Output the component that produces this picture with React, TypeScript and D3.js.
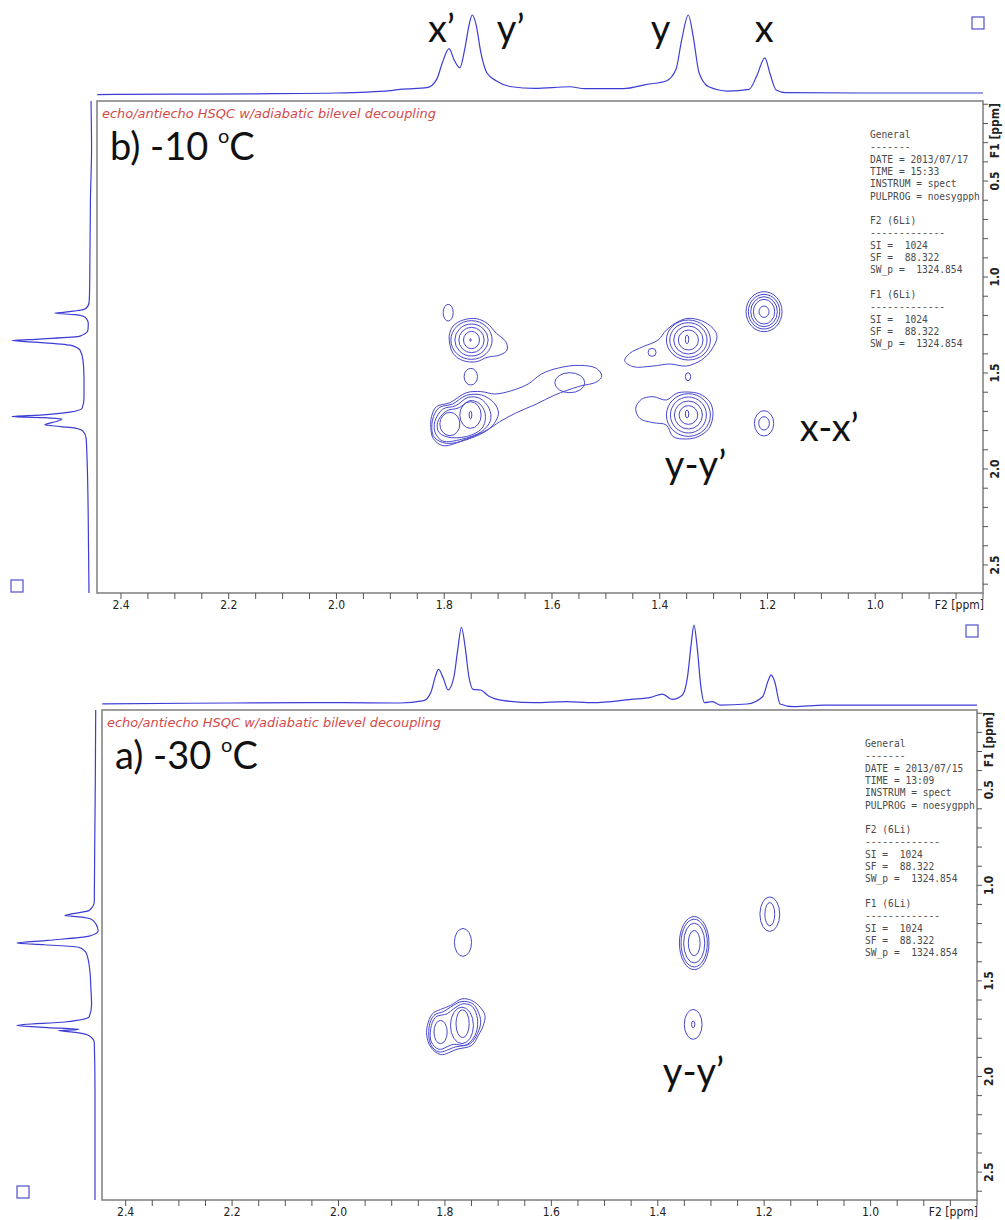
import React from 'react'
import * as d3 from 'd3'

type Pt = [number, number]
type Ring = [number, number, number, number] // F2, F1, half width F2, half width F1 (ppm)

// axes
const F2_DOMAIN = [2.4445, 0.8]
const F1_DOMAIN = [0.083, 2.646]
const f2Labels = [2.4, 2.2, 2.0, 1.8, 1.6, 1.4, 1.2, 1.0]
const f1Labels = [0.5, 1.0, 1.5, 2.0, 2.5]

// peak names over the -10 C projection (F2 ppm where the label starts)
const peakNames = ['x’', 'y’', 'y', 'x']
const peakNameF2 = [1.8303, 1.7023, 1.4165, 1.2235]

// 1D projections: [ppm, intensity] (100 = tallest peak)
const topProjM10: Pt[] = [
  [2.444, -2], [2.3, -1.5], [2.15, -1], [2.0, 0], [1.9, 3], [1.882, 4.7], [1.832, 6.8],
  [1.814, 17.5], [1.8035, 38.9], [1.791, 56.8], [1.782, 43], [1.771, 32.4], [1.762, 56],
  [1.753, 90], [1.748, 100], [1.741, 88], [1.732, 51.7], [1.721, 26], [1.703, 15.4],
  [1.675, 8], [1.632, 6], [1.567, 8], [1.539, 5.5], [1.467, 5.5], [1.424, 11], [1.388, 15.4],
  [1.37, 30], [1.359, 69], [1.347, 100], [1.338, 73], [1.327, 26], [1.309, 8], [1.273, 2.5],
  [1.234, 4.7], [1.22, 21.8], [1.205, 45], [1.195, 24], [1.184, 3.8], [1.166, 0.4],
  [1.023, 0], [0.8, 0],
]
const sideProjM10: Pt[] = [
  [0.083, -1.3], [0.33, -2], [0.59, -0.6], [0.85, 0], [1.084, 0.6], [1.136, 1.3], [1.167, 6.4],
  [1.183, 32], [1.188, 45], [1.196, 19], [1.209, 6.4], [1.24, 2.2], [1.276, 2.6], [1.308, 12.8],
  [1.323, 64], [1.331, 100], [1.339, 70], [1.355, 25.6], [1.381, 12.8], [1.433, 9], [1.526, 7.7],
  [1.631, 7.7], [1.683, 10], [1.704, 25.6], [1.719, 64], [1.726, 100], [1.732, 64], [1.74, 36],
  [1.75, 41], [1.77, 58], [1.779, 38], [1.787, 19], [1.8025, 9], [1.839, 5], [1.943, 3.8],
  [2.151, 2.6], [2.412, 1.9], [2.646, 1.3],
]
const topProjM30: Pt[] = [
  [2.444, -1], [2.2, 0], [2.0, 0.5], [1.884, 0], [1.84, 3], [1.826, 14.5], [1.818, 33.8],
  [1.812, 43], [1.803, 31.6], [1.794, 16.7], [1.783, 33.8], [1.776, 68], [1.769, 97],
  [1.762, 72], [1.755, 33.8], [1.747, 17.5], [1.733, 16.7], [1.718, 9], [1.689, 3],
  [1.631, 0.4], [1.572, 1.7], [1.522, 0.4], [1.45, 4.7], [1.413, 7.3], [1.391, 11.5],
  [1.373, 4.7], [1.354, 10], [1.344, 33.8], [1.337, 76.5], [1.332, 100], [1.326, 72],
  [1.319, 21], [1.312, 0.4], [1.297, 1.7], [1.283, -2.6], [1.232, -1.3], [1.203, 8],
  [1.192, 29.5], [1.187, 36], [1.18, 27], [1.17, -1.3], [1.145, -4.7], [1.087, -2.6],
  [0.941, -2.6], [0.8, -2.6],
]
const sideProjM30: Pt[] = [
  [0.083, -0.9], [0.458, -0.4], [0.817, 0.4], [1.086, 0.9], [1.132, 7.5], [1.149, 29.6],
  [1.158, 38.5], [1.165, 20.8], [1.176, 5.3], [1.203, -1.3], [1.239, -4], [1.266, 7.5],
  [1.288, 60.6], [1.302, 100], [1.311, 65], [1.324, 20.8], [1.356, 11], [1.446, 6.6],
  [1.535, 5.3], [1.625, 4.4], [1.688, 7.5], [1.715, 38.5], [1.733, 100], [1.744, 60.6],
  [1.754, 20.8], [1.76, 47], [1.769, 25], [1.787, 7.5], [1.823, 0.9], [2.074, 0], [2.646, 0],
]

// 2D contours, -10 C: near-elliptic rings
const ringsM10: Ring[] = [
  // x diagonal
  [1.2064, 1.1806, 0.0334, 0.1042], [1.2064, 1.1806, 0.0291, 0.0903], [1.2064, 1.1806, 0.0247, 0.0781],
  [1.2064, 1.1806, 0.0198, 0.0642], [1.2064, 1.1806, 0.0093, 0.0295],
  // x-x' cross peak
  [1.2064, 1.7622, 0.0179, 0.066], [1.2064, 1.7622, 0.0099, 0.0347],
  // y diagonal
  [1.3468, 1.3281, 0.0408, 0.1042], [1.3468, 1.3281, 0.0346, 0.0903], [1.3468, 1.3281, 0.0272, 0.0729],
  [1.3468, 1.3281, 0.0186, 0.0521], [1.3493, 1.3247, 0.0031, 0.0226],
  // y-y' cross peak
  [1.3468, 1.7188, 0.0408, 0.1111], [1.3468, 1.7188, 0.0334, 0.0938], [1.3468, 1.7188, 0.026, 0.0729],
  [1.3468, 1.7188, 0.0173, 0.0486], [1.3493, 1.7136, 0.0031, 0.0208],
  // y'-y cross peak
  [1.7494, 1.3281, 0.0383, 0.1007], [1.7494, 1.3281, 0.0309, 0.0833], [1.7494, 1.3281, 0.0235, 0.066],
  [1.7494, 1.3281, 0.0148, 0.0451], [1.7513, 1.3281, 0.0012, 0.0069],
  // small features
  [1.7927, 1.1858, 0.0093, 0.0434], [1.7507, 1.5191, 0.0124, 0.0434], [1.4142, 1.3924, 0.0074, 0.0208],
  [1.3475, 1.5191, 0.0049, 0.0208], [1.567, 1.5504, 0.0278, 0.0521],
  // x' / y' diagonal lobes
  [1.7896, 1.7656, 0.0186, 0.0608], [1.7513, 1.7188, 0.0198, 0.0694], [1.7513, 1.7188, 0.0025, 0.0208],
]
// -10 C: irregular outer rings
const shapesM10: Pt[][] = [
  [[1.465, 1.4358], [1.4557, 1.3976], [1.4309, 1.3629], [1.4031, 1.3281], [1.3877, 1.2761],
    [1.366, 1.2326], [1.3475, 1.2153], [1.3227, 1.2274], [1.3011, 1.2674], [1.2937, 1.3108],
    [1.3042, 1.3802], [1.3227, 1.4323], [1.3506, 1.4636], [1.3815, 1.4531], [1.4124, 1.4636],
    [1.4495, 1.467]],
  [[1.4446, 1.684], [1.434, 1.6372], [1.4124, 1.6233], [1.3877, 1.6406], [1.3691, 1.6059],
    [1.3493, 1.599], [1.3258, 1.6094], [1.3073, 1.6493], [1.3011, 1.7101], [1.3085, 1.7882],
    [1.3289, 1.8316], [1.3506, 1.8438], [1.3753, 1.8316], [1.3877, 1.7708], [1.4124, 1.7587],
    [1.4371, 1.7361]],
  [[1.7909, 1.3108], [1.7835, 1.2552], [1.7649, 1.224], [1.7402, 1.217], [1.7204, 1.2413],
    [1.7031, 1.2934], [1.6857, 1.3368], [1.6833, 1.3802], [1.6969, 1.4063], [1.7204, 1.4184],
    [1.7402, 1.441], [1.7649, 1.4358], [1.7835, 1.3976]],
  [[1.8236, 1.7274], [1.8144, 1.6754], [1.7896, 1.6545], [1.7587, 1.6024], [1.7309, 1.5972],
    [1.7061, 1.6094], [1.6752, 1.592], [1.6443, 1.5573], [1.6196, 1.5052], [1.5856, 1.4722],
    [1.5484, 1.4601], [1.5175, 1.4757], [1.5076, 1.5156], [1.5163, 1.5451], [1.5515, 1.5712],
    [1.5948, 1.6146], [1.6288, 1.6615], [1.6659, 1.7066], [1.6969, 1.7535], [1.7204, 1.7969],
    [1.7587, 1.8438], [1.802, 1.8785], [1.8206, 1.8403], [1.8249, 1.783]],
  [[1.8218, 1.7448], [1.8094, 1.6806], [1.7847, 1.6615], [1.7587, 1.6163], [1.7309, 1.6146],
    [1.708, 1.6545], [1.6993, 1.7101], [1.7123, 1.7795], [1.7433, 1.8316], [1.7958, 1.8663],
    [1.8193, 1.8316]],
  [[1.8175, 1.7535], [1.8032, 1.6892], [1.7785, 1.6701], [1.7556, 1.6267], [1.734, 1.632],
    [1.7167, 1.684], [1.7142, 1.7483], [1.7309, 1.8056], [1.768, 1.8455], [1.8032, 1.8542],
    [1.8168, 1.8108]],
  [[1.8125, 1.7587], [1.7971, 1.6997], [1.7723, 1.6806], [1.7525, 1.6441], [1.7352, 1.658],
    [1.7241, 1.7101], [1.7278, 1.7795], [1.7494, 1.8229], [1.7865, 1.8368], [1.8094, 1.8108]],
]

// 2D contours, -30 C
const ringsM30: Ring[] = [
  [1.7661, 1.2986, 0.0161, 0.0729],
  [1.3315, 1.3021, 0.0278, 0.1389], [1.3315, 1.3021, 0.0247, 0.125], [1.3315, 1.3021, 0.0198, 0.1042],
  [1.3315, 1.3021, 0.0111, 0.066],
  [1.1894, 1.151, 0.0186, 0.0903], [1.1894, 1.151, 0.0093, 0.0608],
  [1.3334, 1.7274, 0.0167, 0.0781], [1.3334, 1.7274, 0.0031, 0.0174],
  [1.768, 1.7326, 0.0216, 0.0955], [1.7668, 1.724, 0.0124, 0.0729], [1.8082, 1.7674, 0.0124, 0.0608],
]
const shapesM30: Pt[][] = [
  [[1.8329, 1.7326], [1.8236, 1.6719], [1.8082, 1.6493], [1.7896, 1.6285], [1.768, 1.5938],
    [1.7494, 1.6024], [1.734, 1.6372], [1.7247, 1.6806], [1.7278, 1.7326], [1.7371, 1.7847],
    [1.7494, 1.8368], [1.7773, 1.8576], [1.8082, 1.8854], [1.8267, 1.8455], [1.8342, 1.7847]],
  [[1.8298, 1.7413], [1.8206, 1.6806], [1.802, 1.6597], [1.7896, 1.6372], [1.768, 1.6076],
    [1.7476, 1.6198], [1.7371, 1.6632], [1.7327, 1.7153], [1.7389, 1.776], [1.7525, 1.8281],
    [1.7804, 1.8455], [1.8113, 1.8715], [1.8267, 1.8333]],
  [[1.8267, 1.75], [1.8175, 1.6892], [1.7958, 1.6719], [1.7835, 1.6458], [1.7661, 1.6198],
    [1.7494, 1.6319], [1.7402, 1.6806], [1.7389, 1.7413], [1.7463, 1.7986], [1.7618, 1.8368],
    [1.7835, 1.8316], [1.8113, 1.8576], [1.8255, 1.8194]],
]

const infoM10 = ['General', '-------', 'DATE = 2013/07/17', 'TIME = 15:33', 'INSTRUM = spect',
  'PULPROG = noesygpph', '', 'F2 (6Li)', '-------------', 'SI =  1024', 'SF =  88.322',
  'SW_p =  1324.854', '', 'F1 (6Li)', '-------------', 'SI =  1024', 'SF =  88.322', 'SW_p =  1324.854']
const infoM30 = ['General', '-------', 'DATE = 2013/07/15', 'TIME = 13:09', 'INSTRUM = spect',
  'PULPROG = noesygpph', '', 'F2 (6Li)', '-------------', 'SI =  1024', 'SF =  88.322',
  'SW_p =  1324.854', '', 'F1 (6Li)', '-------------', 'SI =  1024', 'SF =  88.322', 'SW_p =  1324.854']

const BLUE = '#3d3dd6'
const CONTOUR = '#4848cc'
const LABEL_FONT = "Lato, 'Open Sans', sans-serif"
const AXIS_FONT = "'Liberation Sans Narrow', 'DejaVu Sans Condensed', 'Liberation Sans', sans-serif"

function Panel({ cfg, temp, letter, proj, side, rings, shapes, info, crossLabels, showPeakNames }: any) {
  const x = d3.scaleLinear().domain(F2_DOMAIN).range([cfg.x0, cfg.x1])
  const y = d3.scaleLinear().domain(F1_DOMAIN).range([cfg.y0, cfg.y1])
  const iTop = d3.scaleLinear().domain([0, 100]).range([cfg.projBase, cfg.projPeak])
  const iSide = d3.scaleLinear().domain([0, 100]).range([cfg.sideBase, cfg.sidePeak])

  const topLine = d3.line<Pt>().x(d => x(d[0])).y(d => iTop(d[1])).curve(d3.curveMonotoneX)
  const sideLine = d3.line<Pt>().x(d => iSide(d[1])).y(d => y(d[0])).curve(d3.curveMonotoneY)
  const shapeLine = d3.line<Pt>().x(d => x(d[0])).y(d => y(d[1])).curve(d3.curveCatmullRomClosed)

  const f2Ticks = d3.range(0, 33).map(i => 0.8 + i * 0.05)
  const f1Ticks = d3.range(1, 27).map(i => i * 0.1)

  return (
    <g>
      {/* projections */}
      <path d={topLine(proj) || ''} fill="none" stroke={BLUE} strokeWidth={1.2} />
      <path d={sideLine(side) || ''} fill="none" stroke={BLUE} strokeWidth={1.2} />

      {/* frame */}
      <rect x={cfg.x0} y={cfg.y0} width={cfg.x1 - cfg.x0} height={cfg.y1 - cfg.y0}
        fill="none" stroke="#858585" strokeWidth={1.6} />

      {/* red pulse program title */}
      <text x={cfg.x0 + 5} y={cfg.y0 + 17} fontFamily="'DejaVu Sans', sans-serif" fontStyle="italic"
        fontSize={12.5} fill="#d24b4b" textLength={334} lengthAdjust="spacingAndGlyphs">
        echo/antiecho HSQC w/adiabatic bilevel decoupling
      </text>

      {/* temperature label */}
      <text x={cfg.x0 + 13} y={cfg.y0 + 59} fontFamily={LABEL_FONT} fontSize={38} fill="#111">
        {letter} {temp} <tspan fontSize={20} dy={-17}>o</tspan><tspan dy={17}>C</tspan>
      </text>

      {/* parameter block */}
      {info.map((s: string, i: number) => (
        <text key={i} x={cfg.infoX} y={cfg.y0 + 37 + i * 12.3} fontFamily="'DejaVu Sans Mono', monospace"
          fontSize={9.6} fill="#4a4a4a" style={{ whiteSpace: 'pre' }}>{s}</text>
      ))}

      {/* contours */}
      <g fill="none" stroke={CONTOUR} strokeWidth={1}>
        {rings.map((r: Ring, i: number) => (
          <ellipse key={i} cx={x(r[0])} cy={y(r[1])}
            rx={Math.abs(x(r[0] + r[2]) - x(r[0]))} ry={Math.abs(y(r[1] + r[3]) - y(r[1]))} />
        ))}
        {shapes.map((s: Pt[], i: number) => <path key={'s' + i} d={shapeLine(s) || ''} />)}
      </g>

      {/* ticks */}
      <g stroke="#555" strokeWidth={1}>
        {f2Ticks.map((t, i) => (
          <line key={i} x1={x(t)} x2={x(t)} y1={cfg.y1} y2={cfg.y1 + 6} />
        ))}
        {f1Ticks.map((t, i) => (
          <line key={'r' + i} x1={cfg.x1} x2={cfg.x1 + 5} y1={y(t)} y2={y(t)} />
        ))}
      </g>

      {/* F2 axis labels */}
      {f2Labels.map(t => (
        <text key={t} x={x(t)} y={cfg.y1 + 16} textAnchor="middle" fontFamily={AXIS_FONT}
          fontSize={12} fill="#222">{t.toFixed(1)}</text>
      ))}
      <text x={cfg.x1 + 1} y={cfg.y1 + 16} textAnchor="end" fontFamily={AXIS_FONT} fontSize={12}
        fill="#222">F2 [ppm]</text>

      {/* F1 axis labels */}
      {f1Labels.map(t => (
        <text key={t} transform={`translate(${cfg.x1 + 16},${y(t)}) rotate(-90)`} textAnchor="middle"
          fontFamily={AXIS_FONT} fontSize={12} fontWeight="bold" fill="#222">{t.toFixed(1)}</text>
      ))}
      <text transform={`translate(${cfg.x1 + 16},${cfg.y0 + 2}) rotate(-90)`} textAnchor="end"
        fontFamily={AXIS_FONT} fontSize={12} fontWeight="bold" fill="#222">F1 [ppm]</text>

      {/* squares */}
      <rect x={cfg.sqR[0]} y={cfg.sqR[1]} width={12} height={12} fill="none" stroke="#5050cc" strokeWidth={1.2} />
      <rect x={cfg.sqL[0]} y={cfg.sqL[1]} width={12} height={12} fill="none" stroke="#5050cc" strokeWidth={1.2} />

      {/* annotations */}
      {showPeakNames && peakNames.map((n, i) => (
        <text key={n} x={x(peakNameF2[i])} y={cfg.projPeak + 27} fontFamily={LABEL_FONT} fontSize={38}
          fill="#111">{n}</text>
      ))}
      {crossLabels.map((c: any) => (
        <text key={c.t} x={x(c.f2)} y={y(c.f1)} fontFamily={LABEL_FONT} fontSize={38} fill="#111">{c.t}</text>
      ))}
    </g>
  )
}

export default function App() {
  const topCfg = { x0: 97, x1: 983, y0: 101, y1: 593, projBase: 93, projPeak: 15, sideBase: 90,
    sidePeak: 12, sqR: [972, 17], sqL: [11, 580], infoX: 870 }
  const botCfg = { x0: 102, x1: 977, y0: 710, y1: 1200, projBase: 703, projPeak: 625, sideBase: 95,
    sidePeak: 17, sqR: [966, 625], sqL: [17, 1186], infoX: 865 }
  return (
    <div style={{ position: 'absolute', left: 0, top: 0 }}>
      <svg width={1005} height={1220} style={{ display: 'block', background: '#fff' }}>
        <Panel cfg={topCfg} letter="b)" temp="-10" proj={topProjM10} side={sideProjM10}
          rings={ringsM10} shapes={shapesM10} info={infoM10} showPeakNames
          crossLabels={[{ t: 'x-x’', f2: 1.14, f1: 1.854 }, { t: 'y-y’', f2: 1.3905, f1: 2.047 }]} />
        <Panel cfg={botCfg} letter="a)" temp="-30" proj={topProjM30} side={sideProjM30}
          rings={ringsM30} shapes={shapesM30} info={infoM30} showPeakNames={false}
          crossLabels={[{ t: 'y-y’', f2: 1.3905, f1: 2.047 }]} />
      </svg>
    </div>
  )
}
